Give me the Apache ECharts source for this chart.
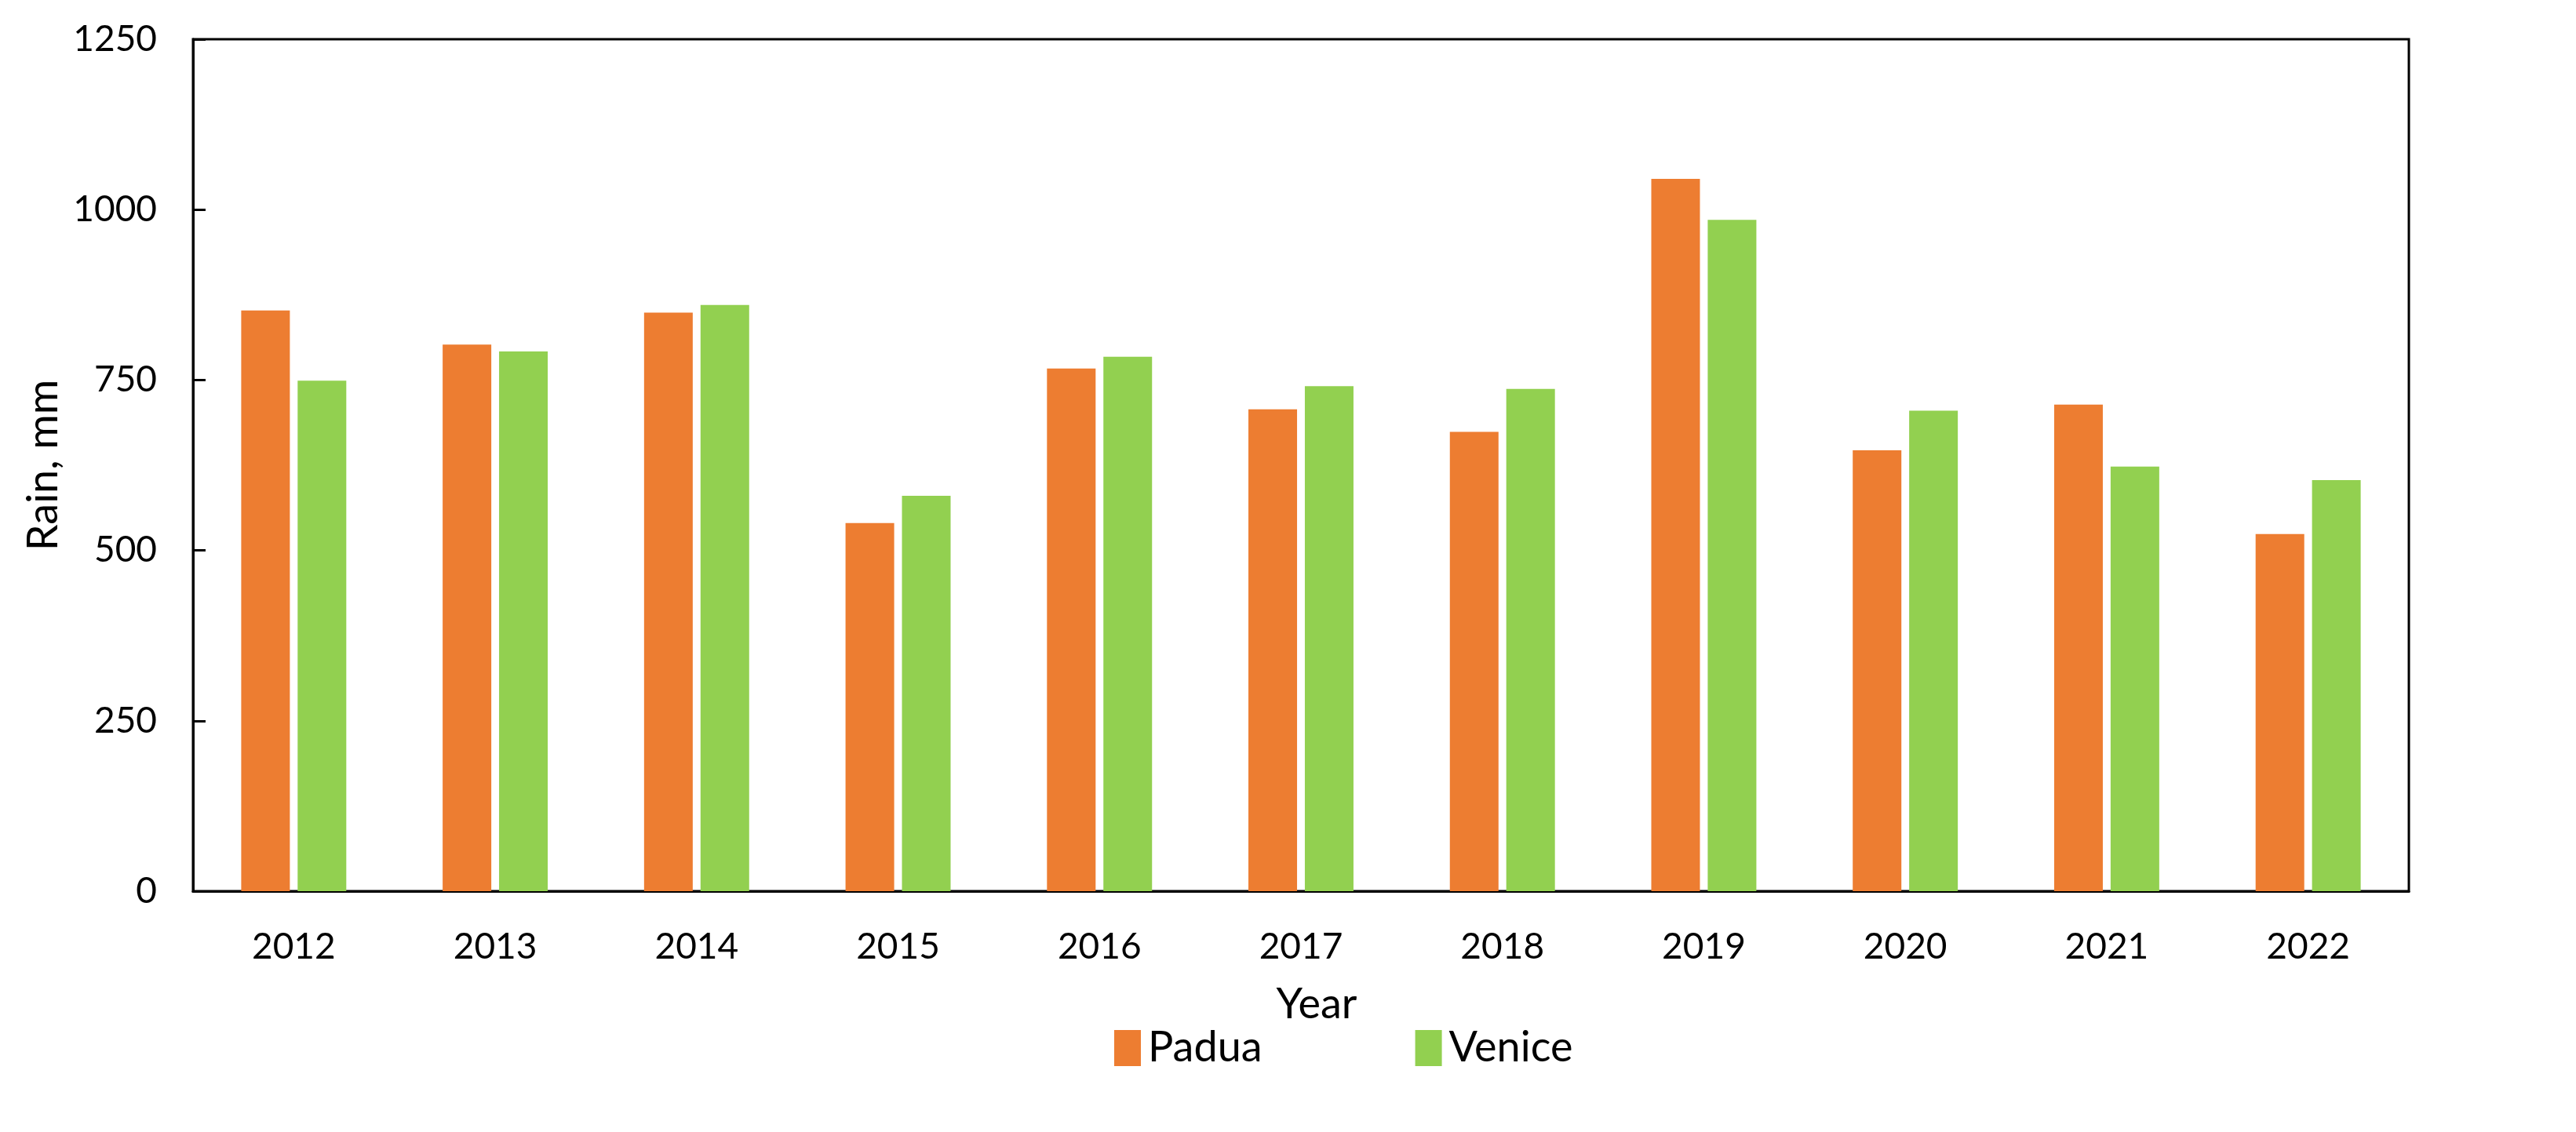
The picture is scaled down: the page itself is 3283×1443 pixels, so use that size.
<!DOCTYPE html>
<html>
<head>
<meta charset="utf-8">
<script src="https://cdn.jsdelivr.net/npm/echarts@6/dist/echarts.min.js"></script>
<style>
html,body{margin:0;padding:0;background:#fff;}
#chart{width:3283px;height:1443px;}
</style>
</head>
<body>
<div id="chart"></div>
<script>
const years = ['2012','2013','2014','2015','2016','2017','2018','2019','2020','2021','2022'];
const padua = [852, 802, 849, 540, 767, 707, 674, 1045, 647, 714, 524];
const venice = [749, 792, 860, 580, 784, 741, 737, 985, 705, 623, 603];
const yTicks = [0, 250, 500, 750, 1000, 1250];

const FONT = 'Lato';
const chart = echarts.init(document.getElementById('chart'), null, {renderer: 'canvas'});
chart.setOption({
  backgroundColor: '#ffffff',
  animation: false,
  textStyle: {fontFamily: FONT, color: '#000'},
  grid: {left: 246, right: 213, top: 50, bottom: 307, show: true, borderColor: '#000', borderWidth: 3, backgroundColor: 'transparent'},
  legend: {
    data: ['Padua', 'Venice'],
    top: 1304,
    left: 1415,
    itemWidth: 34,
    itemHeight: 46,
    itemGap: 195,
    icon: 'rect',
    textStyle: {fontFamily: FONT, fontSize: 54, color: '#000', padding: [0, 0, 0, 4]}
  },
  xAxis: {
    type: 'category',
    data: years,
    name: 'Year',
    nameLocation: 'middle',
    nameGap: 118,
    nameTextStyle: {fontFamily: FONT, fontSize: 54, color: '#000', padding: [0, 0, 0, 40]},
    axisLine: {show: true, lineStyle: {color: '#000', width: 3}},
    axisTick: {show: false},
    axisLabel: {fontFamily: FONT, fontSize: 46, color: '#000', margin: 48}
  },
  yAxis: {
    type: 'value',
    min: yTicks[0],
    max: yTicks[yTicks.length - 1],
    interval: 250,
    name: 'Rain, mm',
    nameLocation: 'middle',
    nameGap: 158,
    nameTextStyle: {fontFamily: FONT, fontSize: 54, color: '#000'},
    splitLine: {show: false},
    axisLine: {show: true, lineStyle: {color: '#000', width: 3}},
    axisTick: {show: true, inside: true, length: 16, lineStyle: {color: '#000', width: 3}},
    axisLabel: {fontFamily: FONT, fontSize: 46, color: '#000', margin: 46, formatter: v => String(v)}
  },
  series: [
    {name: 'Padua', type: 'bar', data: padua, barWidth: 62, barGap: '16%', itemStyle: {color: '#ED7D31'}},
    {name: 'Venice', type: 'bar', data: venice, barWidth: 62, itemStyle: {color: '#92D050'}}
  ]
});
</script>
</body>
</html>
